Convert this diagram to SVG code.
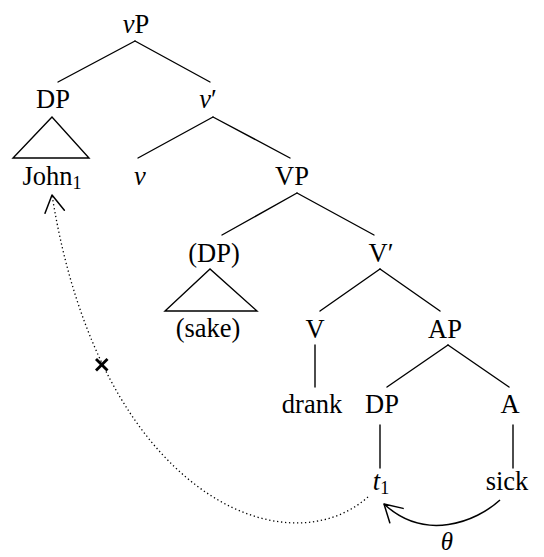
<svg xmlns="http://www.w3.org/2000/svg" width="544" height="557" viewBox="0 0 544 557">
<style>
text{font-family:"Liberation Serif","DejaVu Serif",serif;font-size:26.5px;fill:#000;text-anchor:middle}
.i{font-style:italic}
.sub{font-size:18px}
.th{font-size:25px}
.e{stroke:#000;stroke-width:1.4;fill:none;stroke-linecap:round}
.tri{stroke:#000;stroke-width:1.4;fill:none;stroke-linejoin:miter}
.dot{stroke:#000;stroke-width:1.3;fill:none;stroke-dasharray:1.3 2.7}
.arc{stroke:#000;stroke-width:1.5;fill:none}
.ah{stroke:#000;stroke-width:1.5;fill:none;stroke-linecap:round;stroke-linejoin:round}
.x{stroke:#000;stroke-width:2.8;stroke-linecap:butt}
</style>
<defs>
<marker id="open" markerUnits="userSpaceOnUse" markerWidth="40" markerHeight="40" refX="0" refY="0" viewBox="-20 -20 40 40" orient="auto" overflow="visible">
<path class="ah" d="M-17,-9.8 L0,0 L-17,9.8"/>
</marker>
</defs>
<g id="connectors">
<line class="e" x1="135" y1="41" x2="58" y2="82"/>
<line class="e" x1="135" y1="41" x2="210" y2="82"/>
<polygon class="tri" points="52,117 13,158 89,158"/>
<line class="e" x1="213" y1="117" x2="138" y2="158"/>
<line class="e" x1="213" y1="117" x2="290" y2="158"/>
<line class="e" x1="297" y1="193" x2="222" y2="235"/>
<line class="e" x1="297" y1="193" x2="374" y2="235"/>
<polygon class="tri" points="210,269 165,311 257,311"/>
<line class="e" x1="380" y1="269" x2="320" y2="311"/>
<line class="e" x1="380" y1="269" x2="440" y2="311"/>
<line class="e" x1="315" y1="345" x2="315" y2="387"/>
<line class="e" x1="448" y1="345" x2="387" y2="387"/>
<line class="e" x1="448" y1="345" x2="509" y2="387"/>
<line class="e" x1="380" y1="425" x2="380" y2="468"/>
<line class="e" x1="513" y1="425" x2="513" y2="468"/>
<path class="dot" d="M368,497 C285,570 100,495 52,195" marker-end="url(#open)"/>
<path class="arc" d="M500,500 C476,522 425,542 384,504" marker-end="url(#open)"/>
<line class="x" x1="96" y1="359" x2="107.5" y2="370.5"/>
<line class="x" x1="107.5" y1="359" x2="96" y2="370.5"/>
</g>
<g id="n-vP"><text x="136" y="33"><tspan class="i">v</tspan>P</text></g>
<g id="n-DP1"><text x="53" y="108">DP</text></g>
<g id="n-vbar"><text x="208" y="108"><tspan class="i">v</tspan>′</text></g>
<g id="n-John"><text x="52" y="185">John<tspan class="sub" dy="4">1</tspan></text></g>
<g id="n-v"><text class="i" x="140" y="185">v</text></g>
<g id="n-VP"><text x="292" y="185">VP</text></g>
<g id="n-DP2"><text x="214" y="262">(DP)</text></g>
<g id="n-sake"><text x="208" y="337">(sake)</text></g>
<g id="n-Vbar"><text x="381" y="262">V′</text></g>
<g id="n-V"><text x="315" y="338">V</text></g>
<g id="n-AP"><text x="445" y="338">AP</text></g>
<g id="n-drank"><text x="312" y="413">drank</text></g>
<g id="n-DP3"><text x="382" y="413">DP</text></g>
<g id="n-A"><text x="510" y="413">A</text></g>
<g id="n-t"><text x="381" y="490"><tspan class="i">t</tspan><tspan class="sub" dy="4">1</tspan></text></g>
<g id="n-sick"><text x="507" y="490">sick</text></g>
<g id="n-theta"><text class="i th" x="447" y="550">θ</text></g>
</svg>
